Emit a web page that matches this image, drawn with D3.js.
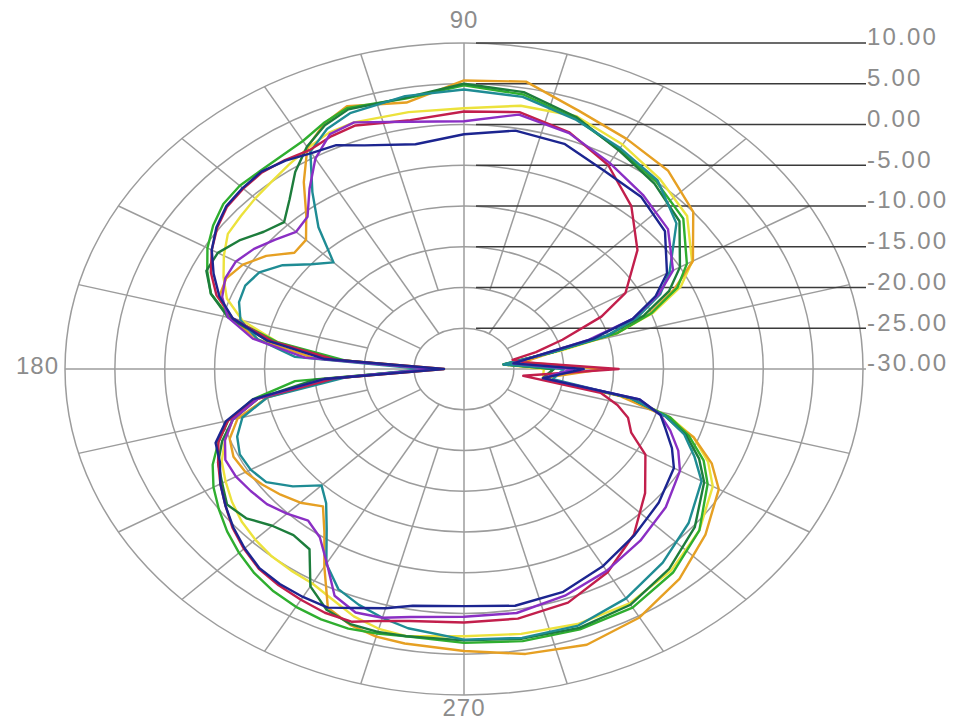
<!DOCTYPE html>
<html><head><meta charset="utf-8">
<script src="https://cdn.jsdelivr.net/npm/d3@7"></script>
<style>body{margin:0;background:#fff}svg{display:block}</style>
</head><body><svg id="c" width="966" height="725"></svg>
<script>
// ---- data ----
const angles = [0,8,13,16,20,25,30,40,50,60,70,80,90,100,110,115,120,125,130,135,140,145,150,155,160,165,170,175,180,185,190,195,200,205,210,215,220,225,230,235,240,245,250,255,260,270,280,290,300,310,320,330,335,340,344,348,352];
const levels = [10,5,0,-5,-10,-15,-20,-25,-30];
const levelLabels = ["10.00","5.00","0.00","-5.00","-10.00","-15.00","-20.00","-25.00","-30.00"];
const axisAngles = [90,180,270];
const axisLabels = ["90","180","270"];

const sYellow  = [-22,-26,-20,-14,-9.8,-6,-3.6,-0.8,0.5,1.8,3.0,2.8,2.0,2.0,2.2,2.0,1.3,0.6,0.0,-0.4,-0.8,-1.1,-2.2,-3.4,-4.7,-7,-11,-17,-28,-16,-9,-6,-4.5,-3.2,-2.4,-1.6,-0.9,-0.4,0.0,0.2,0.4,1.2,2.3,3.0,3.3,2.8,3.0,3.3,3.2,2.3,0.8,-1.2,-3.0,-5.5,-8.5,-13,-22];
const sOrange  = [-16,-24,-21,-14,-10.2,-6.7,-3.5,0.0,1.8,2.6,3.7,5.8,5.4,3.2,4.3,3.2,1.4,-2.0,-5.4,-7.6,-7.8,-5.8,-4.4,-3.7,-3.9,-5.6,-9,-15,-27,-17,-10,-6.5,-5,-4.5,-4.7,-5.3,-6.0,-6.8,-8.0,-5.6,-2.0,2.3,3.4,4.0,4.2,4.6,5.5,6.0,5.2,3.6,1.6,-0.5,-2.6,-5.5,-9,-14,-22];
const sGreen   = [-21,-26,-21,-14,-10,-6.4,-4.2,-1.3,0.0,1.1,2.7,4.2,4.8,3.7,4.1,3.3,2.3,1.9,1.75,1.8,1.5,0.7,-0.3,-1.6,-3.0,-5.7,-11,-18,-27,-13,-8.5,-5.5,-3.8,-2.2,-1.0,0.0,1.0,1.9,2.7,3.3,3.7,3.9,3.9,3.6,3.3,3.6,3.9,4.0,3.8,2.6,0.8,-1.8,-3.5,-6,-8.5,-13,-22];
const sDkGreen = [-21,-26,-21,-15,-10.8,-7.3,-5,-1.8,-0.3,1.0,2.9,4.5,5.0,3.8,3.9,3.0,1.5,-0.5,-2.8,-4.5,-3.8,-2.5,-1.5,-1.5,-3.0,-5.5,-10,-17,-27,-15,-9,-6,-4.2,-2.8,-2.0,-1.0,-1.5,-2.8,-3.4,-3.0,0.8,2.6,3.3,3.4,3.3,3.3,3.6,3.8,3.4,2.0,0.2,-2.2,-4,-6.3,-9,-13,-22];
const sTeal    = [-20,-26,-21,-15,-11.5,-8.3,-6.2,-2.2,0.2,1.3,2.6,3.9,4.3,4.0,3.4,2.5,0.8,-3.5,-7.3,-11.5,-10.0,-7.8,-6.3,-5.8,-6.0,-6.8,-9,-13,-26,-18,-10,-7,-5.8,-5.2,-5.3,-5.8,-7.6,-9.8,-8.5,-6.0,-2.4,-0.2,0.8,1.6,2.3,3.2,3.5,3.5,2.5,1.0,-0.6,-2.5,-4.5,-6.5,-9,-13,-21];
const sCrimson = [-14.5,-24,-25,-22.5,-19.5,-14.8,-11.3,-7.3,-3.9,-1.1,0.9,2.0,1.6,1.0,1.8,1.5,1.0,1.3,1.5,1.3,1.0,0.2,-0.8,-2.0,-3.6,-6,-10.5,-17,-28,-17,-9,-5.5,-3.8,-2.8,-1.8,-0.8,0.3,1.2,2.0,2.4,2.7,3.0,3.0,2.0,1.4,1.1,1.1,0.5,-1.2,-3.5,-6.3,-9.0,-11.5,-12.5,-14,-16,-24];
const sPurple  = [-19,-25,-22,-17,-12,-8.5,-5.8,-3.3,-2.1,-0.8,0.8,1.7,0.4,0.8,2.2,1.8,-0.2,-3.0,-5.6,-6.2,-5.3,-4.3,-3.6,-3.6,-4.2,-5.5,-8.5,-14,-27,-16,-9,-6,-4.5,-3.6,-3.6,-3.9,-4.2,-4.9,-5.7,-4.8,-2.5,0.7,1.8,1.6,0.9,0.4,0.4,-0.4,-1.4,-2.5,-3.6,-5.0,-6.3,-8,-9.5,-12,-22];
const sNavy    = [-18,-25,-22,-16.5,-12,-8.8,-6.5,-3.7,-2.4,-1.9,-0.6,-0.3,-1.2,-2.0,-0.8,0.3,0.6,1.2,1.6,1.4,1.1,0.3,-0.8,-2.3,-3.9,-6.0,-10,-16,-28,-16,-8.5,-5.3,-3.5,-3.0,-1.8,-0.8,0.2,1.1,1.9,2.2,2.3,2.3,1.2,0.4,-0.5,-0.9,-0.5,-0.9,-2.1,-3.4,-4.5,-5.7,-7,-8.5,-9.5,-12,-22];

const seriesValues = [sYellow, sOrange, sGreen, sDkGreen, sTeal, sCrimson, sPurple, sNavy];
const seriesColors = ["#ece23c","#e6a023","#2fae2f","#1d7d3c","#1f8c94","#c21f4c","#8a2fc4","#1c2590"];

// ---- layout ----
const cx = 464, cy = 369, rx = 399, ry = 326;
const svg = d3.select("#c");
const r = d3.scaleLinear().domain([-30, 10]).range([0, 1]).clamp(true);
const x = d3.scaleLinear().domain([-1, 1]).range([cx - rx, cx + rx]);
const y = d3.scaleLinear().domain([-1, 1]).range([cy + ry, cy - ry]);
const rad = d => d * Math.PI / 180;
const pt = (a, db) => [x(r(db) * Math.cos(rad(a))), y(r(db) * Math.sin(rad(a)))];

const grid = svg.append("g").attr("fill", "none").attr("stroke", "#9c9c9c").attr("stroke-width", 1.5);
// rings
levels.filter(l => l > -30).forEach(l => {
  grid.append("ellipse").attr("cx", x(0)).attr("cy", y(0))
    .attr("rx", x(r(l)) - x(0)).attr("ry", y(0) - y(r(l)));
});
// spokes
d3.range(0, 360, 15).filter(a => a % 90 !== 0).forEach(a => {
  const start = (a % 30 === 0) ? -25 : -20;
  const p0 = pt(a, start), p1 = pt(a, 10);
  grid.append("line").attr("x1", p0[0]).attr("y1", p0[1]).attr("x2", p1[0]).attr("y2", p1[1]);
});
// main axes
grid.append("line").attr("x1", x(-1)).attr("y1", y(0)).attr("x2", x(1) + 3).attr("y2", y(0));
grid.append("line").attr("x1", x(0)).attr("y1", y(1)).attr("x2", x(0)).attr("y2", y(-1));

// level reference lines and labels
const lab = svg.append("g");
levels.forEach((l, i) => {
  const yy = y(r(l));
  if (l > -30) {
    lab.append("line").attr("x1", x(0) + 12).attr("x2", x(1) + 3).attr("y1", yy).attr("y2", yy)
      .attr("stroke", "#3a3a3a").attr("stroke-width", 1.6);
  }
  lab.append("text").attr("x", x(1) + 4).attr("y", yy - 4)
    .attr("dominant-baseline", "middle")
    .attr("font-family", "Liberation Sans, Arial, sans-serif").attr("font-size", 24)
    .attr("letter-spacing", 2.2).attr("fill", "#8c8c8c").text(levelLabels[i]);
});

// angle labels
axisAngles.forEach((a, i) => {
  const t = svg.append("text").attr("font-family", "Liberation Sans, Arial, sans-serif")
    .attr("font-size", 24).attr("letter-spacing", 1).attr("fill", "#8c8c8c")
    .attr("dominant-baseline", "middle").text(axisLabels[i]);
  if (a === 90) t.attr("x", x(0)).attr("y", y(1) - 21).attr("text-anchor", "middle");
  if (a === 180) t.attr("x", x(-1) - 6).attr("y", y(0) - 1).attr("text-anchor", "end");
  if (a === 270) t.attr("x", x(0)).attr("y", y(-1) + 15).attr("text-anchor", "middle");
});

// series curves
const line = d3.line().curve(d3.curveLinearClosed);
const curves = svg.append("g").attr("fill", "none").attr("stroke-width", 2.4).attr("stroke-linejoin", "round");
seriesValues.forEach((vals, i) => {
  const pts = angles.map((a, j) => pt(a, vals[j]));
  curves.append("path").attr("d", line(pts)).attr("stroke", seriesColors[i]);
});
</script></body></html>
